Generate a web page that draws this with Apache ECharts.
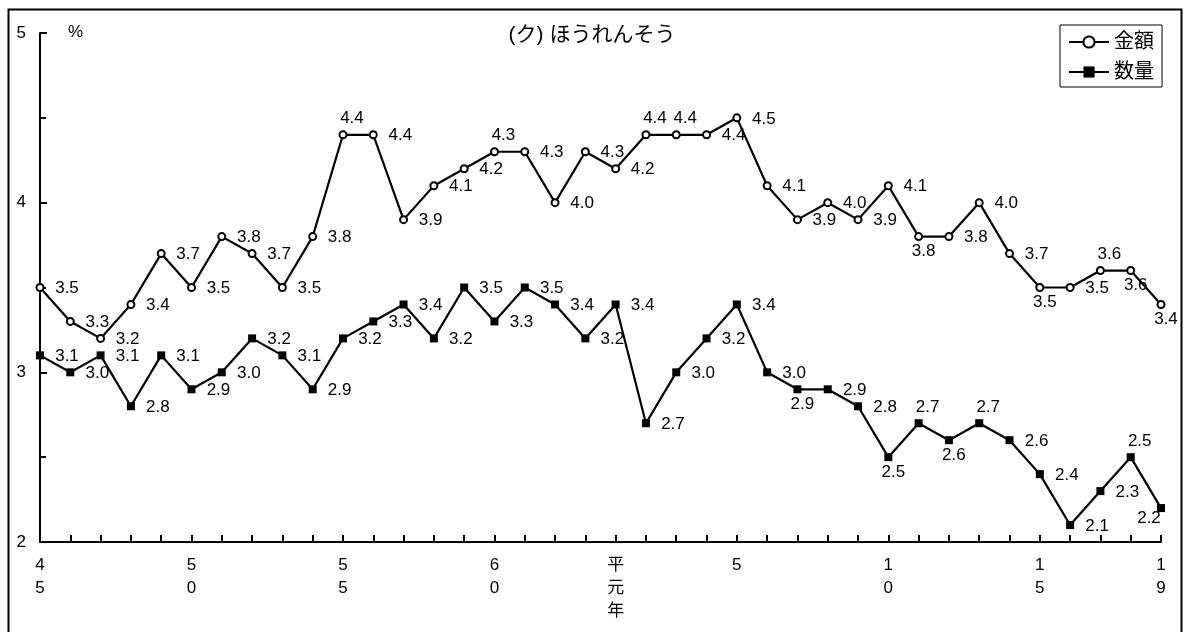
<!DOCTYPE html>
<html>
<head>
<meta charset="utf-8">
<script src="https://cdn.jsdelivr.net/npm/echarts@6/dist/echarts.min.js"></script>
<style>
html,body{margin:0;padding:0;background:#fff;}
#chart{width:1184px;height:632px;}
</style>
</head>
<body>
<div id="chart"></div>
<script>
// Years: 昭和45 … 昭和63, 平成元年 … 平成19
const years = ['45','46','47','48','49','50','51','52','53','54','55','56','57','58','59','60','61','62','63',
  '元','2','3','4','5','6','7','8','9','10','11','12','13','14','15','16','17','18','19'];
// Which years get an axis label, and the label text
const labelYears = ['45','50','55','60','元','5','10','15','19'];
const labelTexts = ['45','50','55','60','平元年','5','10','15','19'];

const kingaku = [3.5,3.3,3.2,3.4,3.7,3.5,3.8,3.7,3.5,3.8,4.4,4.4,3.9,4.1,4.2,4.3,4.3,4.0,4.3,
  4.2,4.4,4.4,4.4,4.5,4.1,3.9,4.0,3.9,4.1,3.8,3.8,4.0,3.7,3.5,3.5,3.6,3.6,3.4];
const suryo = [3.1,3.0,3.1,2.8,3.1,2.9,3.0,3.2,3.1,2.9,3.2,3.3,3.4,3.2,3.5,3.3,3.5,3.4,3.2,
  3.4,2.7,3.0,3.2,3.4,3.0,2.9,2.9,2.8,2.5,2.7,2.6,2.7,2.6,2.4,2.1,2.3,2.5,2.2];

const yTicks = [2,3,4,5];

// label placement codes (r = right, t = above, b = below, bl = below-left)
const kingakuPlace = ['r','r','r','r','r','r','r','r','r','r','t','r','r','r','r','t','r','r','r',
  'r','t','t','r','r','r','r','r','r','r','b','r','r','r','b','r','t','b','b'];
const suryoPlace = ['r','r','r','r','r','r','r','r','r','r','r','r','r','r','r','r','r','r','r',
  'r','r','r','r','r','r','b','r','r','b','t','b','t','r','r','r','r','t','bl'];

const offsets = { r:[27,1], t:[9,-16], b:[5,15], bl:[-12,10] };
const FONT = "'Liberation Sans', Arial, 'Noto Sans CJK JP', sans-serif";

function buildData(vals, places) {
  return vals.map((v,i) => ({
    value: v,
    label: { offset: offsets[places[i]] }
  }));
}

const chart = echarts.init(document.getElementById('chart'), null, {renderer:'canvas'});
chart.setOption({
  backgroundColor:'#ffffff',
  animation:false,
  title:{
    text:'(ク) ほうれんそう',
    left:'center',
    top:20,
    textStyle:{fontFamily:FONT, fontSize:21, fontWeight:'normal', color:'#000'}
  },
  legend:{
    orient:'vertical',
    left:1060,
    top:25,
    padding:[6,8,4,8],
    itemGap:8,
    itemWidth:40,
    itemHeight:14,
    borderColor:'#000',
    borderWidth:1,
    textStyle:{fontFamily:FONT, fontSize:20, color:'#000', lineHeight:22},
    data:['金額','数量']
  },
  grid:{left:40, right:23, top:33, bottom:90, containLabel:false},
  xAxis:{
    type:'category',
    data:years,
    boundaryGap:false,
    axisLine:{lineStyle:{color:'#000', width:2}},
    axisTick:{inside:true, length:7, interval:0, lineStyle:{color:'#000', width:2}},
    axisLabel:{
      interval:0,
      margin:12,
      fontFamily:FONT,
      fontSize:17,
      lineHeight:23,
      color:'#000',
      formatter:function(v){
        const i = labelYears.indexOf(v);
        return i < 0 ? '' : labelTexts[i].split('').join('\n');
      }
    },
    splitLine:{show:false}
  },
  yAxis:{
    type:'value',
    min:yTicks[0],
    max:yTicks[yTicks.length-1],
    interval:1,
    axisLine:{show:true, lineStyle:{color:'#000', width:2}},
    axisTick:{show:true, inside:true, length:7, lineStyle:{color:'#000', width:2}},
    minorTick:{show:true, splitNumber:2, length:6, lineStyle:{color:'#000', width:2}},
    axisLabel:{margin:14, fontFamily:FONT, fontSize:17, color:'#000'},
    splitLine:{show:false}
  },
  graphic:[
    {type:'rect', left:6, top:7, z:100, silent:true,
     shape:{width:1173, height:640},
     style:{fill:'none', stroke:'#000', lineWidth:2}},
    {type:'text', left:68, top:24,
     style:{text:'%', font:"17px 'Liberation Sans', Arial, sans-serif", fill:'#000'}}
  ],
  series:[
    {
      name:'金額',
      type:'line',
      data:buildData(kingaku, kingakuPlace),
      symbol:'circle',
      symbolSize:7,
      showAllSymbol:true,
      lineStyle:{color:'#000', width:2.2},
      itemStyle:{color:'#fff', borderColor:'#000', borderWidth:2},
      label:{show:true, position:'inside', fontFamily:FONT, fontSize:17, color:'#000',
        formatter:p => p.value.toFixed(1)},
      z:3
    },
    {
      name:'数量',
      type:'line',
      data:buildData(suryo, suryoPlace),
      symbol:'rect',
      symbolSize:8,
      showAllSymbol:true,
      lineStyle:{color:'#000', width:2.2},
      itemStyle:{color:'#000', borderColor:'#000', borderWidth:0},
      label:{show:true, position:'inside', fontFamily:FONT, fontSize:17, color:'#000',
        formatter:p => p.value.toFixed(1)},
      z:3
    }
  ]
});
</script>
</body>
</html>
